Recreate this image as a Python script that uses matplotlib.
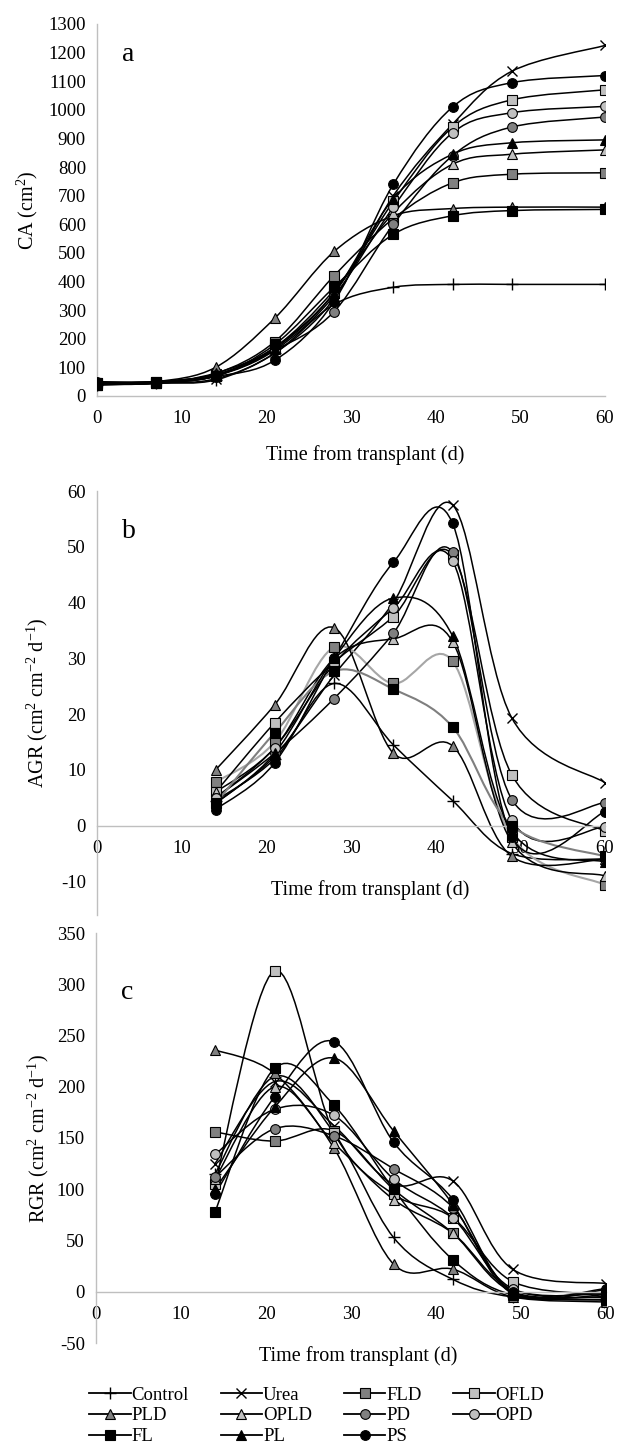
import numpy as np
import matplotlib
matplotlib.use('Agg')
import matplotlib.pyplot as plt
from matplotlib.path import Path
from matplotlib.patches import PathPatch
from matplotlib.lines import Line2D

plt.rcParams['font.family'] = ['Liberation Serif', 'DejaVu Serif']
plt.rcParams['mathtext.fontset'] = 'custom'
plt.rcParams['mathtext.rm'] = 'Liberation Serif'
plt.rcParams['mathtext.it'] = 'Liberation Serif:italic'
plt.rcParams['axes.unicode_minus'] = False

names = ['Control', 'Urea', 'FLD', 'OFLD', 'PLD', 'OPLD', 'PD', 'OPD', 'FL', 'PL', 'PS']

days_a = [0, 7, 14, 21, 28, 35, 42, 49, 60]
days_bc = [14, 21, 28, 35, 42, 49, 60]

ca = {
    'Control': [40, 45, 56, 150, 320, 380, 390, 390, 390],
    'Urea':    [40, 45, 60, 150, 340, 700, 950, 1135, 1225],
    'FLD':     [45, 50, 78, 190, 420, 620, 745, 775, 780],
    'OFLD':    [40, 45, 70, 170, 360, 680, 940, 1035, 1070],
    'PLD':     [45, 50, 100, 272, 505, 630, 655, 660, 660],
    'OPLD':    [40, 45, 80, 170, 370, 640, 810, 845, 860],
    'PD':      [45, 50, 75, 160, 295, 600, 840, 940, 975],
    'OPD':     [40, 45, 70, 160, 350, 660, 920, 990, 1012],
    'FL':      [45, 50, 70, 180, 380, 565, 630, 648, 652],
    'PL':      [40, 45, 70, 165, 360, 690, 845, 885, 895],
    'PS':      [50, 50, 68, 125, 330, 740, 1010, 1095, 1120],
}

agr = {
    'Control': [4.5, 12, 25.5, 14.5, 4.5, -5, -6],
    'Urea':    [4, 12.5, 27, 40, 57.5, 19.3, 7.7],
    'FLD':     [7.8, 15, 32, 25.5, 29.5, -2, -10.6],
    'OFLD':    [6, 18.5, 29.3, 37.5, 48.5, 9.1, -1],
    'PLD':     [10, 21.7, 35.5, 13, 14.3, -5.5, -6],
    'OPLD':    [6, 14, 30, 33.5, 33, -3, -9],
    'PD':      [5, 13, 22.8, 34.5, 49, 4.7, 4.1],
    'OPD':     [5, 14, 29, 39, 47.5, 1, -0.2],
    'FL':      [4, 16.7, 27.7, 24.5, 17.7, 0, -5.5],
    'PL':      [4, 13, 30, 40.8, 34, -1, -6.5],
    'PS':      [2.9, 11.3, 30, 47.2, 54.2, -2, 2.5],
}

rgr = {
    'Control': [115, 210, 155, 53, 12, -5, -8],
    'Urea':    [125, 205, 162, 105, 108, 22, 8],
    'FLD':     [156, 147, 157, 100, 57, 0, -5],
    'OFLD':    [105, 313, 155, 95, 72, 10, -3],
    'PLD':     [236, 213, 140, 27, 22, -5, -10],
    'OPLD':    [110, 200, 145, 90, 57, 2, -6],
    'PD':      [112, 159, 152, 120, 82, 0, -3],
    'OPD':     [134, 178, 172, 110, 72, 3, -2],
    'FL':      [78, 218, 182, 100, 31, -3, -8],
    'PL':      [100, 180, 228, 157, 85, -2, 2],
    'PS':      [95, 190, 244, 146, 90, 0, 3],
}

dark = '#808080'
light = '#c0c0c0'
style = {
    'Control': dict(marker='+', mfc='k', ms=8, mew=1.0),
    'Urea':    dict(marker='x', mfc='k', ms=7, mew=1.0),
    'FLD':     dict(marker='s', mfc=dark, ms=6.5, mew=0.8),
    'OFLD':    dict(marker='s', mfc=light, ms=6.5, mew=0.8),
    'PLD':     dict(marker='^', mfc=dark, ms=7, mew=0.8),
    'OPLD':    dict(marker='^', mfc=light, ms=7, mew=0.8),
    'PD':      dict(marker='o', mfc=dark, ms=7, mew=0.8),
    'OPD':     dict(marker='o', mfc=light, ms=7, mew=0.8),
    'FL':      dict(marker='s', mfc='k', ms=6.5, mew=0.8),
    'PL':      dict(marker='^', mfc='k', ms=7, mew=0.8),
    'PS':      dict(marker='o', mfc='k', ms=7, mew=0.8),
}


def smooth(x, y):
    # excel-like smoothed line as cubic bezier path
    p = np.column_stack([x, y]).astype(float)
    n = len(p)
    verts = [p[0]]
    codes = [Path.MOVETO]
    for i in range(n - 1):
        a = p[max(i - 1, 0)]
        b = p[i]
        c = p[i + 1]
        d = p[min(i + 2, n - 1)]
        verts += [b + (c - a) / 6, c - (d - b) / 6, c]
        codes += [Path.CURVE4] * 3
    return Path(verts, codes)


def panel(ax, x, data, line_colors={}):
    for nm in names:
        col = line_colors.get(nm, 'k')
        lw = 1.5 if nm in line_colors else 1.1
        ax.add_patch(PathPatch(smooth(x, data[nm]), fill=False, edgecolor=col, lw=lw, zorder=2))
        s = style[nm]
        ax.plot(x, data[nm], linestyle='none', marker=s['marker'], ms=s['ms'],
                mfc=s['mfc'], mec='k', mew=s['mew'], zorder=3)
    for sp in ['top', 'right']:
        ax.spines[sp].set_visible(False)
    for sp in ['left', 'bottom']:
        ax.spines[sp].set_color('#bfbfbf')
        ax.spines[sp].set_linewidth(1.0)
    ax.tick_params(length=0, labelsize=13.5)
    ax.tick_params(axis='x', pad=10)
    ax.tick_params(axis='y', pad=8)
    ax.set_xlim(0, 60)
    ax.set_xticks(range(0, 61, 10))


W, H = 619, 1452
fig = plt.figure(figsize=(W / 100, H / 100), dpi=100)


def box(l, r, t, b):
    return [l / W, 1 - b / H, (r - l) / W, (b - t) / H]


ax1 = fig.add_axes(box(97, 605, 24, 396))
panel(ax1, days_a, ca)
ax1.set_ylim(0, 1300)
ax1.set_yticks(range(0, 1301, 100))
ax1.set_ylabel('CA (cm$^2$)', fontsize=14.5, labelpad=6)
ax1.text(0.05, 0.9, 'a', transform=ax1.transAxes, fontsize=20)
fig.text(365 / W, 1 - 455 / H, 'Time from transplant (d)', ha='center', va='center', fontsize=14.5)

ax2 = fig.add_axes(box(97, 605, 491, 915))
panel(ax2, days_bc, agr, line_colors={'FLD': '#a6a6a6', 'FL': '#7f7f7f'})
ax2.set_ylim(-16, 60)
ax2.set_yticks(range(-10, 61, 10))
ax2.spines['bottom'].set_position(('data', 0))
ax2.set_ylabel('AGR (cm$^2$ cm$^{-2}$ d$^{-1}$)', fontsize=14.5, labelpad=8)
ax2.text(0.05, 0.89, 'b', transform=ax2.transAxes, fontsize=20)
fig.text(370 / W, 1 - 890 / H, 'Time from transplant (d)', ha='center', va='center', fontsize=14.5)

ax3 = fig.add_axes(box(96, 606, 933, 1343))
panel(ax3, days_bc, rgr)
ax3.set_ylim(-50, 350)
ax3.set_yticks(range(-50, 351, 50))
ax3.spines['bottom'].set_position(('data', 0))
ax3.set_ylabel('RGR (cm$^2$ cm$^{-2}$ d$^{-1}$)', fontsize=14.5, labelpad=4)
ax3.text(0.05, 0.84, 'c', transform=ax3.transAxes, fontsize=20)
fig.text(358 / W, 1 - 1356 / H, 'Time from transplant (d)', ha='center', va='center', fontsize=14.5)

# legend is filled column by column, reorder so rows read like the original
order = ['Control', 'PLD', 'FL', 'Urea', 'OPLD', 'PL', 'FLD', 'PD', 'PS', 'OFLD', 'OPD']
handles = []
for nm in order:
    s = style[nm]
    handles.append(Line2D([], [], color='k', lw=1.3, marker=s['marker'], ms=s['ms'],
                          mfc=s['mfc'], mec='k', mew=s['mew']))
fig.legend(handles, order, ncol=4, loc='upper left', bbox_to_anchor=(80 / W, 1 - 1377 / H),
           frameon=False, fontsize=13.5, handlelength=2.2, handletextpad=0.05,
           columnspacing=1.7, labelspacing=0.2, borderpad=0)

fig.savefig('out.png', dpi=100)
